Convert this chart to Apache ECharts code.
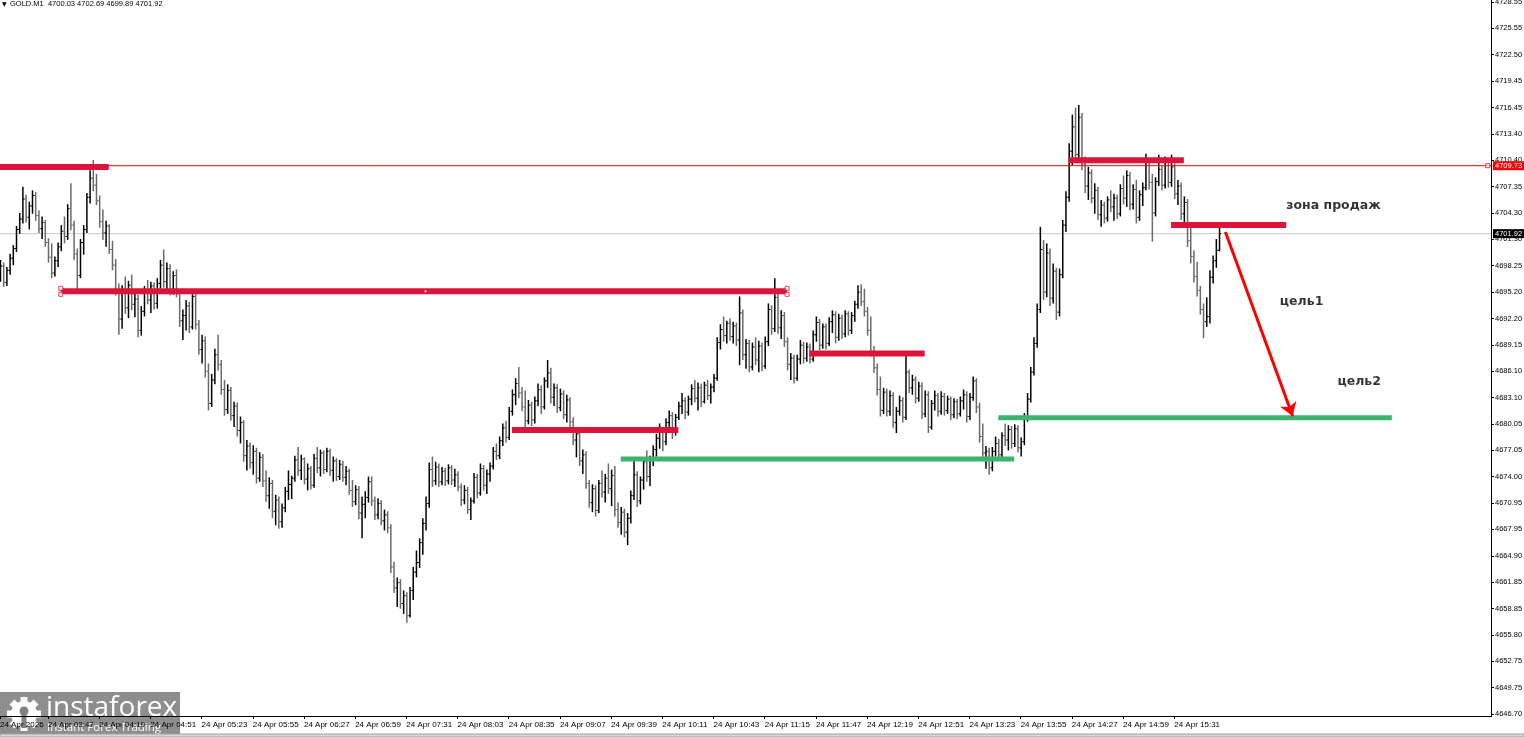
<!DOCTYPE html>
<html><head><meta charset="utf-8">
<script src="https://cdn.jsdelivr.net/npm/echarts@6/dist/echarts.min.js"></script>
<style>html,body{margin:0;padding:0;background:#fff;overflow:hidden}#c{width:1524px;height:737px}</style>
</head><body><div id="c"></div>
<script>
// ---------- data ----------
const firstBarTime = [3, 17];          // 24 Apr, 03:17
const barMinutes = 2;
const slotCount = 467;                 // time slots across the plot width
const headerText = 'GOLD.M1  4700.03 4702.69 4699.89 4701.92';
const tickTimes = ['03:17','03:47','04:19','04:51','05:23','05:55','06:27','06:59','07:31','08:03','08:35','09:07','09:39','10:11','10:43','11:15','11:47','12:19','12:51','13:23','13:55','14:27','14:59','15:31'];
const tickLabels = ['24 Apr 2026','24 Apr 03:47','24 Apr 04:19','24 Apr 04:51','24 Apr 05:23','24 Apr 05:55','24 Apr 06:27','24 Apr 06:59','24 Apr 07:31','24 Apr 08:03','24 Apr 08:35','24 Apr 09:07','24 Apr 09:39','24 Apr 10:11','24 Apr 10:43','24 Apr 11:15','24 Apr 11:47','24 Apr 12:19','24 Apr 12:51','24 Apr 13:23','24 Apr 13:55','24 Apr 14:27','24 Apr 14:59','24 Apr 15:31'];
const priceMin = 4646.70, priceMax = 4728.55;
const priceTickLabels = ['4646.70','4649.75','4652.75','4655.80','4658.85','4661.85','4664.90','4667.95','4670.95','4674.00','4677.05','4680.05','4683.10','4686.10','4689.15','4692.20','4695.20','4698.25','4701.30','4704.30','4707.35','4710.40','4713.40','4716.45','4719.45','4722.50','4725.55','4728.55'];
const resistanceLine = 4709.73;
const bidPrice = 4701.92;

// bars: [open, high, low, close]
const barsA = [[4697.5,4698.9,4696.4,4698.2],[4698.2,4698.6,4695.8,4696.3],[4696.3,4698.1,4695.9,4697.7],[4697.7,4699.6,4697.2,4699.1],[4699.1,4700.6,4698.3,4700.2],[4700.2,4702.8,4699.8,4702.4],[4702.4,4704.3,4701.9,4703.6],[4703.6,4707.3,4703.1,4705.9],[4705.9,4706.4,4703.2,4703.8],[4703.8,4705.6,4702.4,4705.1],[4705.1,4706.9,4704.2,4706.3],[4706.3,4706.7,4703.4,4704.0],[4704.0,4704.6,4702.0,4702.5],[4702.5,4703.9,4701.3,4703.2],[4703.2,4703.5,4700.4,4700.9],[4700.9,4701.4,4698.6,4699.2],[4699.2,4700.8,4696.8,4697.4],[4697.4,4699.3,4697.0,4698.8],[4698.8,4700.9,4698.1,4700.4],[4700.4,4702.9,4699.9,4702.2],[4702.2,4703.9,4700.8,4701.6],[4701.6,4705.3,4701.2,4704.8],[4704.8,4707.7,4702.3,4702.9],[4702.9,4703.4,4698.9,4699.6],[4699.6,4700.2,4695.4,4697.1],[4697.1,4701.3,4696.8,4700.9],[4700.9,4702.9,4699.5,4702.4],[4702.4,4706.6,4702.0,4706.1],[4706.1,4709.2,4705.4,4708.3],[4708.3,4710.4,4706.8,4707.5],[4707.5,4708.8,4705.2,4705.7],[4705.7,4706.3,4702.6,4703.3]];
const barsB = [[4703.3,4704.7,4701.2,4702.0],[4702.0,4703.4,4700.4,4702.8],[4702.8,4703.0,4699.6,4700.1],[4700.1,4701.1,4697.7,4698.3],[4698.3,4699.0,4694.8,4695.5],[4695.5,4696.2,4690.3,4692.1],[4692.1,4696.0,4691.0,4695.3],[4695.3,4697.0,4692.7,4693.4],[4693.4,4696.5,4692.2,4696.0],[4696.0,4697.2,4693.1,4693.8],[4693.8,4695.1,4692.3,4694.4],[4694.4,4694.9,4690.0,4690.8],[4690.8,4693.6,4690.2,4693.0],[4693.0,4695.9,4692.4,4695.2],[4695.2,4696.6,4693.8,4694.3],[4694.3,4696.4,4692.8,4695.9],[4695.9,4696.3,4693.2,4693.9],[4693.9,4696.8,4693.3,4696.2],[4696.2,4698.9,4695.6,4698.3],[4698.3,4700.1,4695.7,4696.4],[4696.4,4698.6,4695.4,4697.9],[4697.9,4698.4,4694.8,4695.3],[4695.3,4697.6,4694.9,4697.1],[4697.1,4697.8,4694.6,4695.0],[4695.0,4695.4,4691.2,4691.9],[4691.9,4693.2,4689.7,4692.5],[4692.5,4694.3,4690.8,4693.6],[4693.6,4694.1,4690.5,4691.2],[4691.2,4695.4,4690.9,4694.7],[4694.7,4695.0,4690.9,4691.5],[4691.5,4692.0,4688.0,4688.6],[4688.6,4690.3,4687.0,4689.6]];
const barsC = [[4689.6,4690.1,4685.4,4686.1],[4686.1,4687.0,4681.6,4682.4],[4682.4,4685.8,4682.0,4685.1],[4685.1,4688.7,4684.6,4688.0],[4688.0,4690.3,4686.2,4686.9],[4686.9,4687.4,4683.4,4684.0],[4684.0,4685.1,4681.0,4681.7],[4681.7,4684.6,4681.2,4683.9],[4683.9,4684.3,4680.4,4681.0],[4681.0,4682.6,4679.7,4682.1],[4682.1,4682.5,4678.6,4679.3],[4679.3,4680.9,4677.8,4680.2],[4680.2,4680.5,4675.7,4676.4],[4676.4,4678.2,4674.7,4677.5],[4677.5,4677.9,4674.9,4675.6],[4675.6,4677.6,4674.2,4676.9],[4676.9,4677.3,4673.2,4673.8],[4673.8,4676.8,4673.4,4676.2],[4676.2,4676.6,4672.8,4673.5],[4673.5,4674.7,4671.1,4671.8],[4671.8,4673.9,4670.3,4673.2],[4673.2,4673.6,4669.2,4670.0],[4670.0,4671.9,4668.4,4671.3],[4671.3,4671.7,4668.0,4668.8],[4668.8,4670.9,4668.1,4670.4],[4670.4,4672.8,4669.9,4672.3],[4672.3,4674.7,4671.3,4673.1],[4673.1,4674.1,4671.4,4673.8],[4673.8,4676.4,4673.4,4675.9],[4675.9,4677.4,4674.1,4674.7],[4674.7,4676.5,4673.6,4676.0],[4676.0,4676.2,4673.1,4673.7]];
const barsD = [[4673.7,4675.5,4672.4,4674.9],[4674.9,4675.2,4672.5,4673.0],[4673.0,4676.6,4672.7,4676.1],[4676.1,4677.4,4674.4,4675.0],[4675.0,4677.1,4674.0,4676.7],[4676.7,4677.0,4674.3,4674.8],[4674.8,4677.3,4674.5,4676.9],[4676.9,4677.2,4674.1,4674.7],[4674.7,4676.3,4673.4,4675.8],[4675.8,4676.1,4673.5,4674.0],[4674.0,4675.9,4673.6,4675.4],[4675.4,4675.8,4673.4,4673.9],[4673.9,4675.2,4673.0,4674.6],[4674.6,4674.9,4671.9,4672.4],[4672.4,4673.6,4670.5,4671.1],[4671.1,4673.0,4670.7,4672.5],[4672.5,4672.9,4669.1,4669.8],[4669.8,4671.7,4666.9,4670.8],[4670.8,4672.3,4669.2,4671.6],[4671.6,4674.0,4671.0,4673.4],[4673.4,4674.0,4670.6,4671.2],[4671.2,4671.7,4669.0,4669.6],[4669.6,4671.5,4669.1,4670.9],[4670.9,4671.3,4668.4,4668.9],[4668.9,4670.2,4667.8,4669.6],[4669.6,4670.0,4667.5,4668.1],[4668.1,4668.5,4662.9,4663.6],[4663.6,4664.2,4660.6,4661.2],[4661.2,4662.4,4659.0,4661.8],[4661.8,4662.2,4658.8,4659.4],[4659.4,4660.9,4658.2,4660.3],[4660.3,4660.7,4657.2,4658.0]];
const barsE = [[4658.0,4661.3,4657.8,4660.9],[4660.9,4663.6,4659.8,4663.0],[4663.0,4665.5,4662.4,4664.1],[4664.1,4666.9,4663.5,4666.4],[4666.4,4669.2,4665.0,4668.6],[4668.6,4671.7,4667.8,4670.9],[4670.9,4675.6,4670.4,4674.8],[4674.8,4676.3,4672.8,4673.5],[4673.5,4675.7,4673.0,4675.1],[4675.1,4675.5,4672.8,4673.4],[4673.4,4675.1,4673.0,4674.6],[4674.6,4675.0,4672.9,4673.5],[4673.5,4675.4,4673.1,4675.0],[4675.0,4675.3,4673.0,4673.6],[4673.6,4674.9,4672.8,4674.2],[4674.2,4674.6,4672.3,4672.8],[4672.8,4673.2,4670.6,4671.3],[4671.3,4673.0,4670.8,4672.4],[4672.4,4672.8,4669.7,4670.2],[4670.2,4671.6,4669.0,4671.2],[4671.2,4674.4,4670.9,4673.9],[4673.9,4674.3,4671.5,4672.1],[4672.1,4675.5,4671.8,4674.9],[4674.9,4675.3,4672.4,4673.0],[4673.0,4674.8,4672.0,4674.3],[4674.3,4675.6,4673.4,4675.2],[4675.2,4677.4,4674.8,4676.9],[4676.9,4677.8,4675.9,4676.4],[4676.4,4678.6,4676.0,4678.1],[4678.1,4680.1,4677.5,4679.6],[4679.6,4680.4,4677.9,4678.5],[4678.5,4682.0,4678.2,4681.5]];
const barsF = [[4681.5,4684.0,4681.0,4683.4],[4683.4,4685.3,4682.2,4684.7],[4684.7,4686.6,4683.0,4683.6],[4683.6,4684.3,4681.5,4682.0],[4682.0,4683.9,4679.7,4680.4],[4680.4,4682.8,4680.0,4682.2],[4682.2,4682.6,4679.8,4680.5],[4680.5,4683.2,4680.1,4682.7],[4682.7,4684.7,4682.1,4684.0],[4684.0,4684.5,4681.2,4682.0],[4682.0,4685.4,4681.7,4685.0],[4685.0,4687.4,4684.2,4685.9],[4685.9,4686.5,4682.4,4683.1],[4683.1,4684.7,4682.1,4684.2],[4684.2,4684.6,4681.3,4681.9],[4681.9,4684.1,4681.5,4683.5],[4683.5,4683.9,4680.6,4681.1],[4681.1,4683.4,4680.2,4682.8],[4682.8,4683.1,4679.7,4680.3],[4680.3,4680.8,4677.6,4678.2],[4678.2,4679.7,4676.2,4678.9],[4678.9,4679.3,4675.2,4675.8],[4675.8,4677.1,4674.3,4676.5],[4676.5,4676.9,4672.6,4673.2],[4673.2,4673.6,4670.4,4671.0],[4671.0,4673.1,4669.9,4672.6],[4672.6,4673.0,4669.4,4670.1],[4670.1,4673.6,4669.8,4673.2],[4673.2,4674.7,4671.6,4672.2],[4672.2,4674.3,4671.0,4673.8],[4673.8,4675.5,4672.0,4672.6],[4672.6,4674.8,4670.6,4674.1]];
const barsG = [[4674.1,4675.2,4669.4,4670.2],[4670.2,4671.0,4668.1,4668.7],[4668.7,4670.5,4667.3,4669.9],[4669.9,4670.3,4667.0,4667.6],[4667.6,4669.8,4666.1,4669.2],[4669.2,4672.4,4668.6,4671.8],[4671.8,4675.9,4671.3,4674.2],[4674.2,4674.6,4670.5,4671.2],[4671.2,4674.0,4670.8,4673.6],[4673.6,4676.2,4672.5,4675.7],[4675.7,4677.0,4673.4,4674.0],[4674.0,4676.4,4672.9,4676.0],[4676.0,4677.6,4675.2,4677.1],[4677.1,4678.9,4676.3,4678.4],[4678.4,4680.1,4677.2,4679.2],[4679.2,4679.7,4676.9,4678.0],[4678.0,4680.7,4677.6,4680.2],[4680.2,4681.6,4679.0,4681.0],[4681.0,4681.4,4678.3,4679.1],[4679.1,4681.2,4678.7,4680.8],[4680.8,4682.6,4680.5,4682.1],[4682.1,4683.6,4681.2,4682.7],[4682.7,4683.1,4680.6,4681.4],[4681.4,4683.3,4681.0,4682.9],[4682.9,4684.6,4682.2,4684.1],[4684.1,4685.1,4682.5,4683.0],[4683.0,4684.8,4681.6,4684.2],[4684.2,4684.7,4682.0,4682.6],[4682.6,4684.9,4682.4,4684.5],[4684.5,4685.1,4682.8,4683.3],[4683.3,4684.7,4682.4,4684.3],[4684.3,4685.8,4683.7,4685.3]];
const barsH = [[4685.3,4690.0,4685.0,4689.4],[4689.4,4691.5,4688.6,4690.9],[4690.9,4692.4,4689.5,4690.2],[4690.2,4691.9,4689.3,4691.6],[4691.6,4692.2,4689.6,4690.1],[4690.1,4691.8,4689.3,4691.3],[4691.3,4691.7,4689.0,4689.7],[4689.7,4694.7,4686.8,4692.8],[4692.8,4693.2,4687.4,4688.0],[4688.0,4689.8,4686.4,4689.3],[4689.3,4689.7,4686.0,4686.6],[4686.6,4689.4,4686.2,4688.9],[4688.9,4690.0,4686.8,4687.4],[4687.4,4689.6,4686.0,4689.0],[4689.0,4689.4,4686.1,4686.7],[4686.7,4690.1,4686.4,4689.5],[4689.5,4693.9,4689.0,4693.2],[4693.2,4693.7,4690.3,4691.0],[4691.0,4696.8,4690.6,4694.6],[4694.6,4695.1,4690.4,4691.1],[4691.1,4693.1,4689.8,4692.5],[4692.5,4692.9,4688.9,4689.5],[4689.5,4690.0,4686.2,4686.9],[4686.9,4688.2,4685.1,4687.6],[4687.6,4688.0,4684.7,4685.3],[4685.3,4688.0,4685.0,4687.5],[4687.5,4689.7,4686.9,4689.1],[4689.1,4689.5,4687.0,4687.6],[4687.6,4689.4,4687.2,4688.9],[4688.9,4689.3,4687.0,4687.5],[4687.5,4690.8,4687.2,4690.3],[4690.3,4692.4,4689.5,4691.7]];
const barsI = [[4691.7,4692.1,4688.5,4689.1],[4689.1,4691.6,4688.7,4691.2],[4691.2,4691.6,4688.6,4689.3],[4689.3,4692.3,4689.0,4691.8],[4691.8,4693.1,4690.5,4692.6],[4692.6,4693.0,4689.3,4690.0],[4690.0,4692.7,4689.6,4692.2],[4692.2,4692.6,4689.8,4690.4],[4690.4,4693.1,4690.0,4692.7],[4692.7,4693.0,4690.2,4690.8],[4690.8,4692.9,4690.4,4692.5],[4692.5,4694.2,4691.8,4693.8],[4693.8,4696.0,4693.3,4695.2],[4695.2,4696.1,4693.6,4694.1],[4694.1,4695.6,4692.4,4693.0],[4693.0,4693.5,4690.2,4690.8],[4690.8,4692.4,4687.8,4688.4],[4688.4,4689.0,4685.9,4686.5],[4686.5,4687.0,4683.3,4684.0],[4684.0,4685.5,4680.9,4681.6],[4681.6,4684.2,4681.2,4683.7],[4683.7,4684.1,4680.9,4681.5],[4681.5,4683.9,4681.0,4683.3],[4683.3,4683.7,4679.6,4680.2],[4680.2,4682.0,4679.0,4681.5],[4681.5,4683.3,4681.0,4682.7],[4682.7,4683.1,4680.2,4680.8],[4680.8,4688.2,4680.5,4686.0],[4686.0,4686.3,4683.6,4684.2],[4684.2,4685.7,4683.4,4685.1],[4685.1,4685.5,4682.4,4683.0],[4683.0,4684.9,4682.6,4684.4]];
const barsJ = [[4684.4,4684.8,4680.6,4681.2],[4681.2,4683.9,4680.8,4683.4],[4683.4,4683.8,4679.0,4679.7],[4679.7,4682.8,4679.4,4682.4],[4682.4,4683.9,4681.6,4683.3],[4683.3,4683.6,4680.9,4681.5],[4681.5,4683.8,4681.1,4683.2],[4683.2,4683.6,4681.0,4681.6],[4681.6,4683.3,4681.2,4682.9],[4682.9,4683.2,4680.5,4681.1],[4681.1,4683.0,4680.7,4682.6],[4682.6,4682.9,4680.6,4681.2],[4681.2,4683.2,4680.9,4682.7],[4682.7,4684.0,4681.7,4683.4],[4683.4,4683.8,4680.2,4680.9],[4680.9,4683.6,4680.5,4683.1],[4683.1,4685.5,4682.7,4685.0],[4685.0,4685.3,4681.3,4682.0],[4682.0,4682.5,4677.9,4678.6],[4678.6,4680.1,4676.0,4676.7],[4676.7,4677.5,4674.9,4676.9],[4676.9,4677.3,4674.2,4675.0],[4675.0,4677.4,4674.6,4676.9],[4676.9,4678.6,4676.3,4677.8],[4677.8,4678.3,4675.9,4676.5],[4676.5,4679.1,4676.1,4678.7],[4678.7,4680.1,4677.5,4678.2],[4678.2,4679.9,4677.0,4679.4],[4679.4,4679.8,4677.2,4677.8],[4677.8,4680.0,4677.4,4679.5],[4679.5,4679.9,4676.8,4677.3],[4677.3,4678.5,4676.3,4678.0]];
const barsK = [[4678.0,4681.3,4677.6,4680.8],[4680.8,4683.6,4680.3,4682.9],[4682.9,4686.6,4682.5,4686.0],[4686.0,4690.0,4685.6,4689.3],[4689.3,4693.9,4688.8,4693.2],[4693.2,4702.7,4692.8,4700.1],[4700.1,4701.2,4694.3,4695.2],[4695.2,4700.8,4694.6,4699.7],[4699.7,4700.2,4693.6,4694.5],[4694.5,4698.5,4693.9,4697.6],[4697.6,4698.0,4692.0,4692.9],[4692.9,4697.9,4692.4,4697.2],[4697.2,4703.5,4696.8,4702.9],[4702.9,4706.8,4702.1,4706.1],[4706.1,4712.3,4705.6,4711.4],[4711.4,4715.6,4709.8,4714.2],[4714.2,4716.4,4710.2,4711.0],[4711.0,4716.7,4710.6,4715.3],[4715.3,4715.8,4709.2,4709.9],[4709.9,4710.8,4706.6,4707.4],[4707.4,4709.6,4705.8,4708.9],[4708.9,4709.3,4705.4,4706.0],[4706.0,4707.7,4704.2,4706.9],[4706.9,4707.3,4703.5,4704.1],[4704.1,4705.8,4702.7,4705.2],[4705.2,4705.6,4703.1,4703.7],[4703.7,4706.2,4703.3,4705.8],[4705.8,4706.9,4704.4,4705.0],[4705.0,4706.5,4703.4,4706.0],[4706.0,4706.4,4703.6,4704.2],[4704.2,4707.6,4703.9,4707.1],[4707.1,4708.6,4705.3,4706.0]];
const barsL = [[4706.0,4709.2,4705.0,4708.6],[4708.6,4709.0,4704.6,4705.3],[4705.3,4707.6,4704.7,4707.0],[4707.0,4708.1,4703.1,4703.8],[4703.8,4706.9,4703.4,4706.4],[4706.4,4707.8,4705.1,4707.2],[4707.2,4711.1,4706.9,4710.2],[4710.2,4710.6,4707.0,4707.8],[4707.8,4708.8,4701.0,4704.3],[4704.3,4708.4,4703.9,4707.9],[4707.9,4711.0,4707.4,4709.3],[4709.3,4709.7,4706.9,4707.5],[4707.5,4710.8,4707.1,4710.1],[4710.1,4710.5,4707.2,4707.8],[4707.8,4711.0,4707.3,4709.6],[4709.6,4710.0,4705.9,4706.5],[4706.5,4708.1,4705.2,4707.4],[4707.4,4707.8,4703.5,4704.2],[4704.2,4706.2,4702.8,4705.5],[4705.5,4705.9,4700.4,4701.1],[4701.1,4702.6,4698.5,4699.3],[4699.3,4700.0,4696.3,4697.0],[4697.0,4698.7,4694.7,4695.4],[4695.4,4695.9,4692.6,4693.2],[4693.2,4693.9,4689.9,4691.8],[4691.8,4694.6,4691.2,4692.4],[4692.4,4697.7,4691.6,4696.9],[4696.9,4699.4,4696.2,4698.8],[4698.8,4701.3,4698.0,4700.0],[4700.03,4702.69,4699.89,4701.92]];

// drawn levels: [fromSlot, toSlot, price]
const redLevels = [[0,34,4709.58],[19,246,4695.29],[160,212,4679.35],[253,289,4688.14],[334,370,4710.36],[366,402,4702.91]];
const greenLevels = [[194,317,4676.0],[312,435,4680.75]];
const arrow = [[383,4702.1],[404,4680.95]];
const notes = [[402,4705.1,'зона продаж'],[400,4694.06,'цель1'],[418,4684.87,'цель2']];

// ---------- build ----------
const pad = n => (n < 10 ? '0' : '') + n;
const categories = [];
for (let k = 0; k < slotCount; k++) {
  const m = firstBarTime[0] * 60 + firstBarTime[1] + barMinutes * k;
  categories.push(pad(Math.floor(m / 60) % 24) + ':' + pad(m % 60));
}
const tickMap = {};
tickTimes.forEach((t, i) => tickMap[t] = tickLabels[i]);
const bars = [].concat(barsA, barsB, barsC, barsD, barsE, barsF, barsG, barsH, barsI, barsJ, barsK, barsL);
const barData = bars.map((b, i) => [i, b[0], b[1], b[2], b[3]]);
const priceStep = (priceMax - priceMin) / (priceTickLabels.length - 1);
const lastSlot = slotCount - 1;

const chart = echarts.init(document.getElementById('c'), null, {renderer: 'canvas'});
const levelSeries = (lv, color, width) => lv.map(l => ({
  type: 'line', data: [[l[0], l[2]], [l[1], l[2]]], symbol: 'none', silent: true, z: 5,
  lineStyle: {color: color, width: width, cap: 'butt'}, animation: false
}));
const priceLine = (price, color, tagBg, z) => ({
  type: 'line', data: [[0, price], [lastSlot, price]], symbol: 'none', silent: true, z: z,
  lineStyle: {color: color, width: 1}, clip: false,
  endLabel: {show: true, formatter: price.toFixed(2), color: '#fff', backgroundColor: tagBg,
    padding: [1, 2, 0, 2], fontSize: 7.5, fontFamily: 'Liberation Sans', distance: 2}
});

const gear = [];
for (let k = 0; k < 8; k++) {
  gear.push({type: 'rect', shape: {x: -3.5, y: -17, width: 7, height: 8}, rotation: k * Math.PI / 4, style: {fill: '#fff'}});
}

const option = {
  animation: false,
  backgroundColor: '#ffffff',
  grid: {left: 0, right: 33, top: 2, bottom: 23, containLabel: false, outerBoundsMode: 'none'},
  xAxis: {
    type: 'category', data: categories, boundaryGap: false, offset: 2,
    axisLine: {show: false},
    axisTick: {show: true, length: 3, interval: (i, v) => v in tickMap, lineStyle: {color: '#000'}},
    axisLabel: {show: true, interval: (i, v) => v in tickMap, formatter: v => tickMap[v] || '', align: 'left',
      fontSize: 8, fontFamily: 'Liberation Sans', color: '#000', margin: 5},
    splitLine: {show: false}
  },
  yAxis: {
    type: 'value', position: 'right', min: priceMin, max: priceMax, interval: priceStep,
    axisLine: {show: false},
    axisTick: {show: true, length: 3, lineStyle: {color: '#000'}},
    axisLabel: {margin: 4, fontSize: 7.5, fontFamily: 'Liberation Sans', color: '#000',
      formatter: v => priceTickLabels[Math.round((v - priceMin) / priceStep)] || ''},
    splitLine: {show: false}
  },
  series: [
    priceLine(bidPrice, '#c8c8c8', '#000', 2),
    {
      type: 'custom', data: barData, encode: {x: 0, y: [1, 2, 3, 4]}, z: 4, silent: true,
      renderItem: (params, api) => {
        const i = api.value(0);
        const o = api.value(1), h = api.value(2), l = api.value(3), c = api.value(4);
        const pH = api.coord([i, h]), pL = api.coord([i, l]), pO = api.coord([i, o]), pC = api.coord([i, c]);
        const x = pH[0] + 0.5;
        const color = c >= o ? '#000000' : '#6a6a6a';
        return {type: 'group', children: [
          {type: 'line', shape: {x1: x, y1: pH[1], x2: x, y2: pL[1]}, style: {stroke: color, lineWidth: 1.5}},
          {type: 'line', shape: {x1: x - 1.6, y1: pO[1], x2: x, y2: pO[1]}, style: {stroke: color, lineWidth: 1}},
          {type: 'line', shape: {x1: x, y1: pC[1], x2: x + 1.6, y2: pC[1]}, style: {stroke: color, lineWidth: 1}}
        ]};
      }
    },
    priceLine(resistanceLine, '#ff0000', '#ff0000', 5),
    ...levelSeries(redLevels, '#dc143c', 6),
    ...levelSeries(greenLevels, '#3cb371', 5),
    {
      type: 'scatter', silent: true, z: 6, symbol: 'rect', symbolSize: [4, 4],
      itemStyle: {color: '#fff', borderColor: '#dc143c', borderWidth: 1},
      data: [
        {value: [redLevels[1][0], redLevels[1][2]], symbolOffset: [0, -3]},
        {value: [redLevels[1][0], redLevels[1][2]], symbolOffset: [0, 3]},
        {value: [redLevels[1][1], redLevels[1][2]], symbolOffset: [0, -3]},
        {value: [redLevels[1][1], redLevels[1][2]], symbolOffset: [0, 3]},
        {value: [Math.round((redLevels[1][0] + redLevels[1][1]) / 2), redLevels[1][2]], symbolSize: 2, itemStyle: {color: '#fff', borderWidth: 0}},
        {value: [lastSlot - 1, resistanceLine], itemStyle: {color: '#fff', borderColor: '#ff0000'}}
      ]
    },
    {
      type: 'lines', coordinateSystem: 'cartesian2d', silent: true, z: 7,
      symbol: ['none', 'arrow'], symbolSize: [0, 13],
      lineStyle: {color: '#ff0000', width: 3, opacity: 1, curveness: 0},
      data: [{coords: arrow}]
    },
    {
      type: 'scatter', silent: true, z: 8, symbolSize: 0,
      data: notes.map(n => ({value: [n[0], n[1]], name: n[2]})),
      label: {show: true, position: 'right', distance: 0, formatter: p => p.name,
        fontFamily: 'DejaVu Sans', fontWeight: 'bold', fontSize: 12.5, color: '#000'}
    }
  ],
  graphic: [
    {type: 'line', shape: {x1: 1491.5, y1: 0, x2: 1491.5, y2: 717}, style: {stroke: '#000', lineWidth: 1}, z: 10, silent: true},
    {type: 'line', shape: {x1: 0, y1: 716.5, x2: 1492, y2: 716.5}, style: {stroke: '#000', lineWidth: 1}, z: 10, silent: true},
    {type: 'rect', shape: {x: 0, y: 734, width: 1524, height: 3}, style: {fill: '#d8d8d8', stroke: '#a0a0a0', lineWidth: 1}, z: 10, silent: true},
    {type: 'text', left: 2, top: 1, style: {text: '▼', fontSize: 6, fill: '#000', fontFamily: 'DejaVu Sans'}, z: 10, silent: true},
    {type: 'text', left: 10, top: 0, style: {text: headerText, fontSize: 7.5, fill: '#000', fontFamily: 'Liberation Sans'}, z: 10, silent: true},
    {type: 'group', left: 0, top: 692, z: 20, silent: true, children: [
      {type: 'rect', shape: {x: 0, y: 0, width: 180, height: 45}, style: {fill: 'rgba(130,130,130,0.9)'}},
      {type: 'group', x: 24, y: 22, children: gear.concat([
        {type: 'circle', shape: {cx: 0, cy: 0, r: 13}, style: {fill: '#fff'}},
        {type: 'circle', shape: {cx: 0, cy: -3, r: 4.5}, style: {fill: 'rgba(130,130,130,1)'}},
        {type: 'rect', shape: {x: -2.5, y: 1, width: 5, height: 13}, style: {fill: 'rgba(130,130,130,1)'}}
      ])},
      {type: 'text', x: 46, y: 16, style: {text: 'instaforex', fontSize: 28, fontFamily: 'Open Sans', fill: '#fff', verticalAlign: 'middle'}},
      {type: 'text', x: 47, y: 36, style: {text: 'Instant Forex Trading', fontSize: 11.5, fontFamily: 'Open Sans', fill: '#fff', verticalAlign: 'middle'}}
    ]}
  ]
};
chart.setOption(option);
</script>
</body></html>
